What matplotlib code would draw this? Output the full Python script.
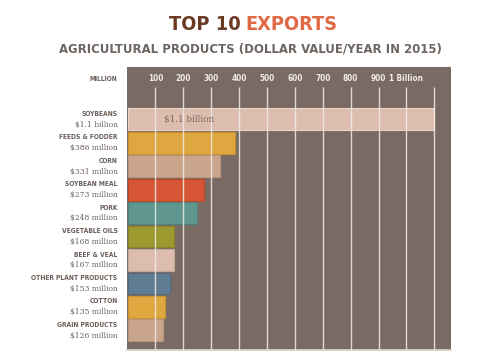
import matplotlib
matplotlib.use('Agg')
from matplotlib import pyplot as plt

# data (million dollars, 2015)
products = ['SOYBEANS', 'FEEDS & FODDER', 'CORN', 'SOYBEAN MEAL', 'PORK',
            'VEGETABLE OILS', 'BEEF & VEAL', 'OTHER PLANT PRODUCTS', 'COTTON', 'GRAIN PRODUCTS']
values = [1100, 386, 331, 273, 248, 168, 167, 153, 135, 126]
value_labels = ['$1.1 billion', '$386 million', '$331 million', '$273 million', '$248 million',
                '$168 million', '$167 million', '$153 million', '$135 million', '$126 million']
tick_values = [100, 200, 300, 400, 500, 600, 700, 800, 900, 1000, 1100]
tick_labels = ['100', '200', '300', '400', '500', '600', '700', '800', '900', '1 Billion', '']

bar_colors = ['#dcbdae', '#dea73f', '#c9a68b', '#d55536', '#5f9690',
              '#9c9a2f', '#dcbdae', '#5f7d95', '#dfa83e', '#c9a68b']
edge_colors = ['#ead2c6', '#c98f2e', '#b8957b', '#c04628', '#4f817c',
               '#87852a', '#c4a89a', '#506c82', '#c99232', '#b8957b']

panel = '#796b63'
text_col = '#6c605a'
cond = dict(family='DejaVu Sans', fontstretch='condensed', fontweight='bold')
serif = dict(family='DejaVu Serif')

fig = plt.figure(figsize=(5, 3.57), dpi=100)
ax = fig.add_axes([0.254, 0.0196, 0.648, 0.7927])
ax.set_facecolor(panel)
renderer = fig.canvas.get_renderer()


def fit(t, width_px):
    # scale font so the text spans about width_px pixels
    w = t.get_window_extent(renderer=renderer).width
    t.set_fontsize(t.get_fontsize() * width_px / w)
    return t.get_fontsize()


pos = list(range(len(products)))
ax.barh(pos, values, height=0.93, color=bar_colors, edgecolor=edge_colors, linewidth=0.8, zorder=2)

ax.vlines(tick_values, -1.38, 9.84, colors='#f2ece6', linewidth=1.0, alpha=0.85, zorder=3)

tick_texts = []
for v, t in zip(tick_values, tick_labels):
    tick_texts.append(ax.text(v, -1.72, t, ha='center', va='center', fontsize=7,
                              color='#f2ece6', zorder=4, **cond))
ts = fit(tick_texts[9], 34)
for t in tick_texts:
    t.set_fontsize(ts)

inner = ax.text(220, 0, value_labels[0], ha='center', va='center', fontsize=7.5,
                color='#786a62', zorder=4, **serif)
fit(inner, 50)

name_texts = []
val_texts = []
for i in pos:
    name_texts.append(ax.text(-36, i - 0.23, products[i], ha='right', va='center', fontsize=6,
                              color=text_col, clip_on=False, **cond))
    val_texts.append(ax.text(-36, i + 0.23, value_labels[i], ha='right', va='center', fontsize=6,
                             color=text_col, clip_on=False, **serif))
ns = fit(name_texts[7], 88)
vs = fit(val_texts[0], 44)
for t in name_texts:
    t.set_fontsize(ns)
for t in val_texts:
    t.set_fontsize(vs)

ax.text(-36, -1.72, 'MILLION', ha='right', va='center', fontsize=ns,
        color=text_col, clip_on=False, **cond)

ax.set_xlim(-2, 1160)
ax.set_ylim(9.84, -2.23)
ax.set_xticks([])
ax.set_yticks([])
for s in ['top', 'left', 'right']:
    ax.spines[s].set_visible(False)
ax.spines['bottom'].set_color('#d9d1c9')
ax.spines['bottom'].set_linewidth(1.2)

# titles
t1 = fig.text(0.482, 0.93, 'TOP 10', ha='right', va='center', fontsize=20, color='#6b3a24', **cond)
t2 = fig.text(0.49, 0.93, 'EXPORTS', ha='left', va='center', fontsize=20, color='#e06a45', **cond)
fit(t2, 92)
t1.set_fontsize(t2.get_fontsize())
sub = fig.text(0.5, 0.863, 'AGRICULTURAL PRODUCTS (DOLLAR VALUE/YEAR IN 2015)', ha='center',
               va='center', fontsize=12, color='#6e6560', **cond)
fit(sub, 380)

plt.savefig('out.png', dpi=100)
